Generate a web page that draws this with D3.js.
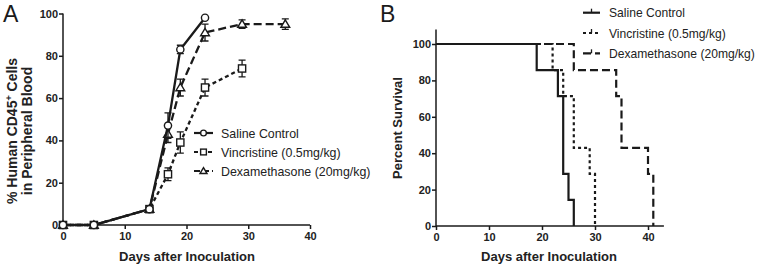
<!DOCTYPE html>
<html>
<head>
<meta charset="utf-8">
<script src="https://cdn.jsdelivr.net/npm/d3@7"></script>
<style>
  body { margin: 0; background: #fff; }
  svg { font-family: "Liberation Sans", Arial, sans-serif; }
  .tick text { font-weight: bold; font-size: 11px; fill: #222; }
  .axis-title { font-weight: bold; font-size: 13px; fill: #222; }
  .legend text { font-size: 12.4px; fill: #222; }
</style>
</head>
<body>
<div id="chart"></div>
<script>
// ---- Panel A: engraftment over time ----
const salineDays = [0, 5, 14, 17, 19, 23];
const salineVals = [0, 0, 7.5, 47, 83, 98];
const salineErr  = [0, 0, 1, 6, 2, 1];

const vincDays = [0, 5, 14, 17, 19, 23, 29];
const vincVals = [0, 0, 7.5, 24, 39, 65, 74];
const vincErr  = [0, 0, 1, 3, 5, 4, 4];

const dexDays = [0, 5, 14, 17, 19, 23, 29, 36];
const dexVals = [0, 0, 7.5, 43, 65, 91, 95, 95];
const dexErr  = [0, 0, 1, 4, 4, 4, 2, 2.5];

const xTicksA = [0, 10, 20, 30, 40];
const yTicksA = [0, 20, 40, 60, 80, 100];

// ---- Panel B: Kaplan-Meier survival ----
const salineSurvT = [0, 19, 23, 24, 25, 26];
const salineSurvV = [100, 85.7, 71.4, 28.6, 14.3, 0];
const vincSurvT = [0, 22, 24, 26, 29, 30];
const vincSurvV = [100, 85.7, 71.4, 42.9, 28.6, 0];
const dexSurvT = [0, 26, 34, 35, 40, 41];
const dexSurvV = [100, 85.7, 71.4, 42.9, 28.6, 0];

const xTicksB = [0, 10, 20, 30, 40];
const yTicksB = [0, 20, 40, 60, 80, 100];

const legendLabels = ["Saline Control", "Vincristine (0.5mg/kg)", "Dexamethasone (20mg/kg)"];

const W = 759, H = 266;
const svg = d3.select("#chart").append("svg").attr("width", W).attr("height", H);

const dashes = [null, "4,3", "8,4"];
const dashesB = [null, "3,3", "8,4"];
const ink = "#1a1a1a";

function axes(g, x, y, xTicks, yTicks, xEnd, yTop) {
    const xa = g.append("g").attr("transform", `translate(0,${y(0)})`)
        .call(d3.axisBottom(x).tickValues(xTicks).tickSize(4).tickSizeOuter(0).tickPadding(3));
    xa.select(".domain").attr("d", `M${x(0)},0H${x(xEnd)}`);
    const ya = g.append("g").attr("transform", `translate(${x(0)},0)`)
        .call(d3.axisLeft(y).tickValues(yTicks).tickSize(4).tickSizeOuter(0).tickPadding(1));
    ya.select(".domain").attr("d", `M0,${y(yTop)}V${y(0)}`);
    g.selectAll(".domain, .tick line").attr("stroke", ink).attr("stroke-width", 1.5);
}

// ---------- Panel A ----------
const xA = d3.scaleLinear().domain([0, 40]).range([63, 310]);
const yA = d3.scaleLinear().domain([0, 100]).range([225, 13.5]);
const gA = svg.append("g");
axes(gA, xA, yA, xTicksA, yTicksA, 40, 100);

const seriesA = [
    { days: salineDays, vals: salineVals, err: salineErr, shape: "circle" },
    { days: vincDays, vals: vincVals, err: vincErr, shape: "square" },
    { days: dexDays, vals: dexVals, err: dexErr, shape: "triangle" }
];

const lineA = d3.line().x(d => xA(d[0])).y(d => yA(d[1]));

function marker(sel, shape, cx, cy, k = 1) {
    if (shape === "circle") {
        sel.append("circle").attr("cx", cx).attr("cy", cy).attr("r", 3.6 * k)
            .attr("fill", "#fff").attr("stroke", ink).attr("stroke-width", 1.4);
    } else if (shape === "square") {
        sel.append("rect").attr("x", cx - 3.6 * k).attr("y", cy - 3.6 * k)
            .attr("width", 7.2 * k).attr("height", 7.2 * k)
            .attr("fill", "#fff").attr("stroke", ink).attr("stroke-width", 1.4);
    } else {
        sel.append("path").attr("d", `M${cx},${cy - 4.2 * k}L${cx + 4.4 * k},${cy + 3.2 * k}L${cx - 4.4 * k},${cy + 3.2 * k}Z`)
            .attr("fill", "#fff").attr("stroke", ink).attr("stroke-width", 1.4);
    }
}

// draw from back to front: dex, vinc, saline
[2, 1, 0].forEach(i => {
    const s = seriesA[i];
    const pts = s.days.map((d, k) => [d, s.vals[k]]);
    gA.append("path").attr("d", lineA(pts)).attr("fill", "none")
        .attr("stroke", ink).attr("stroke-width", 2.3)
        .attr("stroke-dasharray", dashes[i]);
    pts.forEach((p, k) => {
        const e = s.err[k];
        if (e > 1.5) {
            const cx = xA(p[0]);
            gA.append("path")
                .attr("d", `M${cx},${yA(p[1] - e)}V${yA(p[1] + e)}M${cx - 3.5},${yA(p[1] + e)}H${cx + 3.5}M${cx - 3.5},${yA(p[1] - e)}H${cx + 3.5}`)
                .attr("stroke", ink).attr("stroke-width", 1.3).attr("fill", "none");
        }
        marker(gA, s.shape, xA(p[0]), yA(p[1]));
    });
});

gA.append("text").attr("class", "axis-title").attr("x", 187).attr("y", 261)
    .attr("text-anchor", "middle").text("Days after Inoculation");
const yTitleA = gA.append("text").attr("class", "axis-title").attr("text-anchor", "middle")
    .style("font-size", "14px")
    .attr("transform", "translate(0,131) rotate(-90)");
const l1 = yTitleA.append("tspan").attr("x", 0).attr("y", 17);
l1.append("tspan").text("% Human CD45");
l1.append("tspan").attr("dy", -5).attr("font-size", "9px").text("+");
l1.append("tspan").attr("dy", 5).text(" Cells");
yTitleA.append("tspan").attr("x", 0).attr("y", 32).text("in Peripheral Blood");

svg.append("text").attr("x", 3).attr("y", 22).attr("font-size", "23px").attr("fill", ink).text("A");

// legend A
const legA = gA.append("g").attr("class", "legend");
legendLabels.forEach((lab, i) => {
    const yy = 133 + i * 19;
    legA.append("path").attr("d", `M194,${yy}H213`).attr("stroke", ink).attr("stroke-width", 2.2)
        .attr("stroke-dasharray", i === 0 ? null : (i === 1 ? "4,3" : "6,3"));
    marker(legA, seriesA[i].shape, 203.5, yy, 0.8);
    legA.append("text").attr("x", 221).attr("y", yy + 4.5).text(lab);
});

// ---------- Panel B ----------
const xB = d3.scaleLinear().domain([0, 40]).range([436, 648]);
const yB = d3.scaleLinear().domain([0, 100]).range([226, 44]);
const gB = svg.append("g");
axes(gB, xB, yB, xTicksB, yTicksB, 43, 108);

const seriesB = [
    { t: salineSurvT, v: salineSurvV },
    { t: vincSurvT, v: vincSurvV },
    { t: dexSurvT, v: dexSurvV }
];
const lineB = d3.line().x(d => xB(d[0])).y(d => yB(d[1])).curve(d3.curveStepAfter);
[2, 1, 0].forEach(i => {
    const s = seriesB[i];
    gB.append("path").attr("d", lineB(s.t.map((t, k) => [t, s.v[k]])))
        .attr("fill", "none").attr("stroke", ink).attr("stroke-width", 2.2)
        .attr("stroke-dasharray", dashesB[i]);
});

gB.append("text").attr("class", "axis-title").attr("x", 549).attr("y", 261)
    .attr("text-anchor", "middle").text("Days after Inoculation");
gB.append("text").attr("class", "axis-title").attr("text-anchor", "middle")
    .attr("transform", "translate(402,128) rotate(-90)").text("Percent Survival");
svg.append("text").attr("x", 380).attr("y", 22).attr("font-size", "23px").attr("fill", ink).text("B");

const legB = gB.append("g").attr("class", "legend").style("font-size", "12px");
legendLabels.forEach((lab, i) => {
    const yy = 12.7 + i * 20.3;
    legB.append("path").attr("d", `M583,${yy}H600`).attr("stroke", ink).attr("stroke-width", 2.2)
        .attr("stroke-dasharray", dashesB[i]);
    legB.append("path").attr("d", `M591.5,${yy}V${yy - 4}`).attr("stroke", ink).attr("stroke-width", 1.3);
    legB.append("text").attr("x", 609).attr("y", yy + 4.5).style("font-size", "12.1px").text(lab);
});
</script>
</body>
</html>
